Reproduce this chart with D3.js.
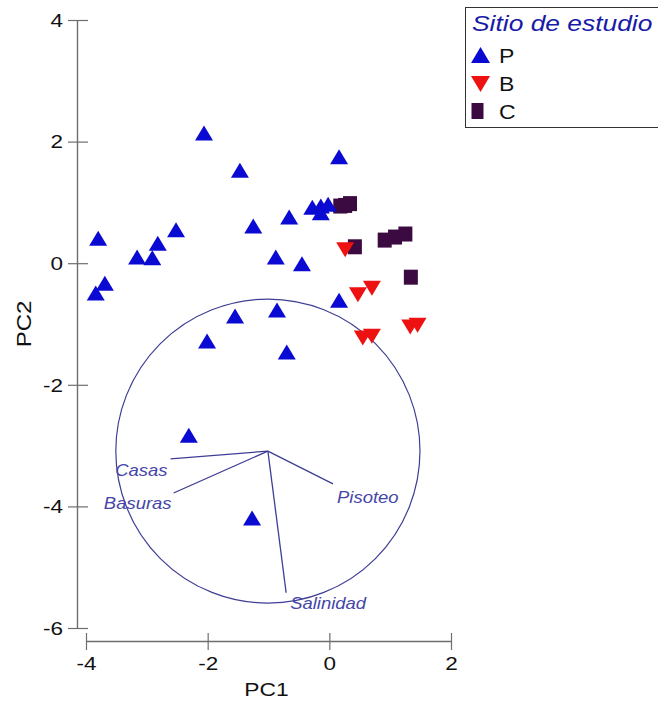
<!DOCTYPE html>
<html><head><meta charset="utf-8">
<script src="https://cdn.jsdelivr.net/npm/d3@7"></script>
<style>body{margin:0;background:#fff}svg{display:block}</style>
</head><body>
<svg id="c" width="658" height="702"></svg>
<script>
// ---- data ----
const xTicks = [-4, -2, 0, 2];
const yTicks = [-6, -4, -2, 0, 2, 4];
const legendTitle = "Sitio de estudio";
const groups = ["P", "B", "C"];
const pX = [-2.06, 0.16, -1.47, -3.80, -2.52, -2.82, -3.16, -2.91, -3.69, -3.84, -1.25, -0.66, -0.28, -0.14, -0.02, -0.14, -0.88, -0.45, 0.16, -1.55, -0.86, -2.01, -0.70, -2.31, -1.27];
const pY = [2.14, 1.75, 1.53, 0.41, 0.55, 0.33, 0.10, 0.09, -0.33, -0.49, 0.61, 0.76, 0.92, 0.94, 0.97, 0.83, 0.10, -0.01, -0.61, -0.87, -0.77, -1.28, -1.46, -2.83, -4.19];
const bX = [0.26, 0.47, 0.70, 0.55, 0.70, 1.33, 1.45];
const bY = [0.22, -0.52, -0.41, -1.23, -1.20, -1.05, -1.02];
const cX = [0.18, 0.26, 0.34, 0.42, 0.91, 1.08, 1.25, 1.34];
const cY = [0.94, 0.95, 0.98, 0.27, 0.38, 0.43, 0.48, -0.23];
const vecNames = ["Casas", "Basuras", "Pisoteo", "Salinidad"];
const vecX = [-1.60, -1.55, 1.07, 0.30];
const vecY = [-0.13, -0.69, -0.54, -2.33];
const circleCenter = [-1.01, -3.09];
const circleRadius = 2.5;

// ---- styles ----
const BLUE = "#0a0ad2", RED = "#ee1111", PURP = "#3a0a40";
const AXIS = "#6e6e6e", VEC = "#3e3e96", VTXT = "#4646a8";
const FONT = "'Liberation Sans', Arial, sans-serif";

const svg = d3.select("#c");
svg.append("rect").attr("width", 658).attr("height", 702).attr("fill", "#fff");
const x = d3.scaleLinear().domain([-4, 2]).range([86, 451]);
const y = d3.scaleLinear().domain([-6, 4]).range([628, 20]);

// ---- axes ----
const SX = 1.25;
const ya = svg.append("g").attr("transform", "translate(77,0)")
  .call(d3.axisLeft(y).tickValues(yTicks).tickSizeOuter(0).tickSizeInner(9).tickPadding(0).tickFormat(d3.format("d")));
ya.select(".domain").attr("stroke", AXIS).attr("stroke-width", 1.4);
ya.selectAll(".tick line").attr("stroke", AXIS).attr("stroke-width", 1.2).attr("x1", 11);
ya.selectAll(".tick text").attr("font-family", FONT).attr("font-size", 18).attr("fill", "#111")
  .attr("x", -14 / SX).attr("dy", "0.35em").attr("transform", `scale(${SX},1)`)
  .text(d => d < 0 ? "-" + Math.abs(d) : d);

const xa = svg.append("g").attr("transform", "translate(0,641)")
  .call(d3.axisBottom(x).tickValues(xTicks).tickSizeOuter(0).tickSizeInner(9).tickPadding(0).tickFormat(d3.format("d")));
xa.select(".domain").attr("stroke", AXIS).attr("stroke-width", 1.4);
xa.selectAll(".tick line").attr("stroke", AXIS).attr("stroke-width", 1.2).attr("y1", -8);
xa.selectAll(".tick text").attr("font-family", FONT).attr("font-size", 18).attr("fill", "#111")
  .attr("y", 29).attr("dy", 0).attr("transform", `scale(${SX},1)`)
  .attr("x", 0).text(d => d < 0 ? "-" + Math.abs(d) : d);

svg.append("text").text("PC1").attr("font-family", FONT).attr("font-size", 19).attr("fill", "#111")
  .attr("text-anchor", "middle").attr("transform", `translate(${(x(-4) + x(2)) / 2 - 2},696) scale(1.2,1)`);
svg.append("text").text("PC2").attr("font-family", FONT).attr("font-size", 20).attr("fill", "#111")
  .attr("text-anchor", "middle").attr("transform", `translate(31,${y(-1)}) rotate(-90) scale(1.2,1)`);

// ---- biplot circle & vectors ----
const cx0 = x(circleCenter[0]), cy0 = y(circleCenter[1]);
const rpx = x(circleRadius) - x(0);
svg.append("ellipse").attr("cx", cx0).attr("cy", cy0).attr("rx", rpx).attr("ry", y(0) - y(circleRadius))
  .attr("fill", "none").attr("stroke", VEC).attr("stroke-width", 1.2);
const labelOff = [[-3, 17, "end"], [-2, 16, "end"], [4, 19, "start"], [4, 16, "start"]];
vecNames.forEach((n, i) => {
  const ex = x(circleCenter[0] + vecX[i]), ey = y(circleCenter[1] + vecY[i]);
  svg.append("line").attr("x1", cx0).attr("y1", cy0).attr("x2", ex).attr("y2", ey)
    .attr("stroke", VEC).attr("stroke-width", 1.3);
  const o = labelOff[i];
  svg.append("text").text(n).attr("font-family", FONT).attr("font-style", "italic").attr("font-size", 16.5)
    .attr("fill", VTXT).attr("text-anchor", o[2])
    .attr("transform", `translate(${ex + o[0]},${ey + o[1]}) scale(1.12,1)`);
});

// ---- markers ----
const triUp = (w, h) => `M0,${-h / 2}L${w / 2},${h / 2}L${-w / 2},${h / 2}Z`;
const triDn = (w, h) => `M0,${h / 2}L${w / 2},${-h / 2}L${-w / 2},${-h / 2}Z`;
const sq = (w, h) => `M${-w / 2},${-h / 2}h${w}v${h}h${-w}Z`;

svg.append("g").selectAll("path").data(cX.map((v, i) => [v, cY[i]])).join("path")
  .attr("d", sq(14, 15)).attr("fill", PURP)
  .attr("transform", d => `translate(${x(d[0])},${y(d[1])})`);
svg.append("g").selectAll("path").data(bX.map((v, i) => [v, bY[i]])).join("path")
  .attr("d", triDn(18, 15)).attr("fill", RED)
  .attr("transform", d => `translate(${x(d[0])},${y(d[1])})`);
svg.append("g").selectAll("path").data(pX.map((v, i) => [v, pY[i]])).join("path")
  .attr("d", triUp(18, 15)).attr("fill", BLUE)
  .attr("transform", d => `translate(${x(d[0])},${y(d[1])})`);

// ---- legend ----
const lg = svg.append("g");
lg.append("rect").attr("x", 465.5).attr("y", 7.5).attr("width", 300).attr("height", 120)
  .attr("fill", "#fff").attr("stroke", "#333").attr("stroke-width", 1);
lg.append("text").text(legendTitle).attr("font-family", FONT).attr("font-style", "italic").attr("font-size", 22)
  .attr("fill", "#1a1aa8").attr("transform", "translate(472,31) scale(1.2,1)");
const lMark = [triUp(19, 16), triDn(19, 16), sq(12, 16)];
const lCol = [BLUE, RED, PURP];
groups.forEach((g, i) => {
  const cy = 55 + i * 28;
  lg.append("path").attr("d", lMark[i]).attr("fill", lCol[i])
    .attr("transform", `translate(${i === 2 ? 477.5 : 480.5},${cy + (i === 1 ? 1 : 0)})`);
  lg.append("text").text(g).attr("font-family", FONT).attr("font-size", 20).attr("fill", "#111")
    .attr("transform", `translate(499,${cy + 8}) scale(1.15,1)`);
});
</script>
</body></html>
